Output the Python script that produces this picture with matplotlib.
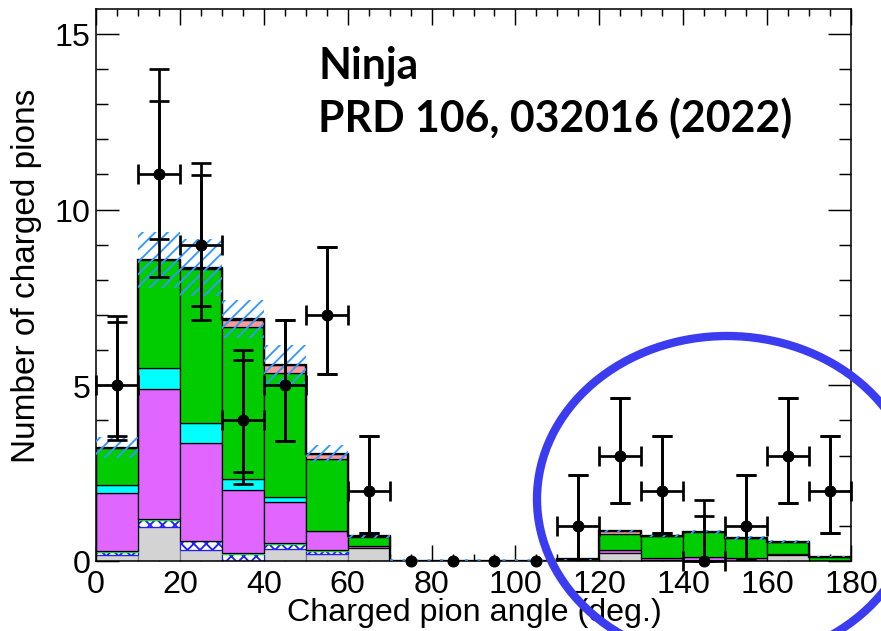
import numpy as np
import matplotlib
matplotlib.use("Agg")
import matplotlib.pyplot as plt
from matplotlib.patches import Ellipse
from matplotlib.ticker import MultipleLocator

# bins of 10 degrees, 0..180
edges = np.arange(0, 190, 10)
centers = edges[:-1] + 5

# stacked MC components (thickness per bin), bottom to top
mc_grey = [0.17, 0.96, 0.31, 0.00, 0.34, 0.20, 0.36, 0, 0, 0, 0, 0.00, 0.22, 0.02, 0.00, 0.00, 0.18, 0.00]
mc_blue = [0.10, 0.22, 0.25, 0.20, 0.14, 0.08, 0.00, 0, 0, 0, 0, 0.00, 0.00, 0.00, 0.00, 0.00, 0.00, 0.00]
mc_lgreen = [0.02, 0.02, 0.02, 0.02, 0.02, 0.02, 0.00, 0, 0, 0, 0, 0.00, 0.00, 0.00, 0.00, 0.00, 0.00, 0.00]
mc_magenta = [1.65, 3.70, 2.78, 1.79, 1.18, 0.56, 0.08, 0, 0, 0, 0, 0.00, 0.10, 0.06, 0.12, 0.08, 0.03, 0.00]
mc_cyan = [0.23, 0.58, 0.57, 0.33, 0.14, 0.00, 0.00, 0, 0, 0, 0, 0.00, 0.00, 0.00, 0.00, 0.00, 0.00, 0.00]
mc_green = [1.06, 3.08, 4.39, 4.32, 3.54, 2.04, 0.24, 0, 0, 0, 0, 0.05, 0.45, 0.62, 0.70, 0.57, 0.33, 0.12]
mc_pink = [0.00, 0.00, 0.03, 0.20, 0.22, 0.15, 0.02, 0, 0, 0, 0, 0.00, 0.07, 0.02, 0.00, 0.01, 0.01, 0.00]
mc_yellow = [0.00, 0.00, 0.00, 0.03, 0.00, 0.00, 0.00, 0, 0, 0, 0, 0.00, 0.00, 0.00, 0.00, 0.00, 0.00, 0.00]
mc_err = [0.30, 0.80, 0.80, 0.55, 0.57, 0.24, 0.05, 0, 0, 0, 0, 0.02, 0.05, 0.05, 0.06, 0.05, 0.04, 0.02]

# data
data_y = [5, 11, 9, 4, 5, 7, 2, 0, 0, 0, 0, 1, 3, 2, 0, 1, 3, 2]
tot_up = [1.98, 3.00, 2.34, 2.01, 1.85, 1.95, 1.57, 0, 0, 0, 0, 1.45, 1.64, 1.56, 1.75, 1.45, 1.64, 1.56]
tot_dn = [1.55, 2.92, 2.13, 1.81, 1.58, 1.67, 1.20, 0, 0, 0, 0, 0.94, 1.35, 1.20, 0.00, 0.94, 1.35, 1.20]
stat_up = [1.81, 2.10, 1.98, 1.73, 1.85, 1.95, 1.57, 0, 0, 0, 0, 1.45, 1.64, 1.56, 1.29, 1.45, 1.64, 1.56]
stat_dn = [1.45, 1.85, 1.75, 1.47, 1.58, 1.67, 1.20, 0, 0, 0, 0, 0.94, 1.35, 1.20, 0.00, 0.94, 1.35, 1.20]

layers = [
    (mc_grey, "#d3d3d3", "#808080", None),
    (mc_blue, "white", "#2020ff", "xx"),
    (mc_lgreen, "#22ee22", "#22ee22", None),
    (mc_magenta, "#e066ff", "black", None),
    (mc_cyan, "#00ffff", "black", None),
    (mc_green, "#00cc00", "black", None),
    (mc_pink, "#ff9999", "black", None),
    (mc_yellow, "#ffcc00", "black", None),
]

plt.rcParams["font.family"] = ["Liberation Sans", "DejaVu Sans"]
plt.rcParams["hatch.linewidth"] = 1.8

DPI = 75
fig = plt.figure(figsize=(881 / DPI, 632 / DPI), dpi=DPI)
ax = fig.add_axes([96 / 881, 1 - 562 / 632, 755 / 881, 552 / 632])

bottom = np.zeros(len(centers))
for vals, fc, ec, hatch in layers:
    vals = np.array(vals)
    m = vals > 0
    ax.bar(centers[m], vals[m], width=10, bottom=bottom[m], color=fc,
           edgecolor=ec, linewidth=1.2, hatch=hatch, zorder=2)
    bottom = bottom + vals
total = bottom

ax.stairs(total, edges, color="black", linewidth=2.2, zorder=3)

# MC uncertainty band
err = np.array(mc_err)
m = err > 0
ax.bar(centers[m], 2 * err[m], width=10, bottom=total[m] - err[m], fill=False,
       hatch="//", edgecolor="#3399ff", linewidth=0, zorder=4)
ax.hlines(0.02, 70, 110, colors="#3399ff", linestyles=(0, (2, 6)),
          linewidth=1.5, zorder=4)

y = np.array(data_y, dtype=float)
has_err = np.array(tot_up) > 0
ax.errorbar(centers[has_err], y[has_err], xerr=5,
            yerr=[np.array(tot_dn)[has_err], np.array(tot_up)[has_err]],
            fmt="o", color="black", ms=10.5, elinewidth=2.6, capsize=9.5,
            capthick=2.6, zorder=6, clip_on=False)
ax.errorbar(centers[has_err], y[has_err],
            yerr=[np.array(stat_dn)[has_err], np.array(stat_up)[has_err]],
            fmt="none", ecolor="black", elinewidth=2.6, capsize=9.5,
            capthick=2.6, zorder=6)
ax.plot(centers[~has_err], y[~has_err], "o", color="black", ms=10.5,
        zorder=6, clip_on=False)

ax.set_xlim(0, 180)
ax.set_ylim(0, 15.71)
ax.xaxis.set_major_locator(MultipleLocator(20))
ax.xaxis.set_minor_locator(MultipleLocator(5))
ax.yaxis.set_major_locator(MultipleLocator(5))
ax.yaxis.set_minor_locator(MultipleLocator(1))
ax.tick_params(axis="both", which="both", direction="in", top=True, right=True,
               width=1.4, labelsize=31)
ax.tick_params(axis="x", which="major", length=15, pad=8)
ax.tick_params(axis="x", which="minor", length=6.5)
ax.tick_params(axis="y", which="major", length=22, pad=5)
ax.tick_params(axis="y", which="minor", length=11.5)
for s in ax.spines.values():
    s.set_linewidth(1.5)

ax.set_xlabel("Charged pion angle (deg.)", fontsize=31)
ax.set_ylabel("Number of charged pions", fontsize=32)
ax.xaxis.set_label_coords(0.501, -0.093)
ax.xaxis.label.set_va("center")
ax.yaxis.set_label_coords(-0.092, 0.519)
ax.yaxis.label.set_va("center")

fig.text(318 / 881, 1 - 78 / 632, "Ninja", fontfamily="Lato", fontweight="bold",
         fontsize=41, va="baseline", ha="left")
fig.text(318 / 881, 1 - 132 / 632, "PRD 106, 032016 (2022)", fontfamily="Lato",
         fontweight="bold", fontsize=41, va="baseline", ha="left")

ring = Ellipse((727 / 881, 1 - 500 / 632), 380 / 881, 326 / 632,
               transform=fig.transFigure, fill=False, edgecolor="#3b3bef",
               linewidth=8, zorder=10)
fig.add_artist(ring)

fig.savefig("out.png", dpi=DPI)
